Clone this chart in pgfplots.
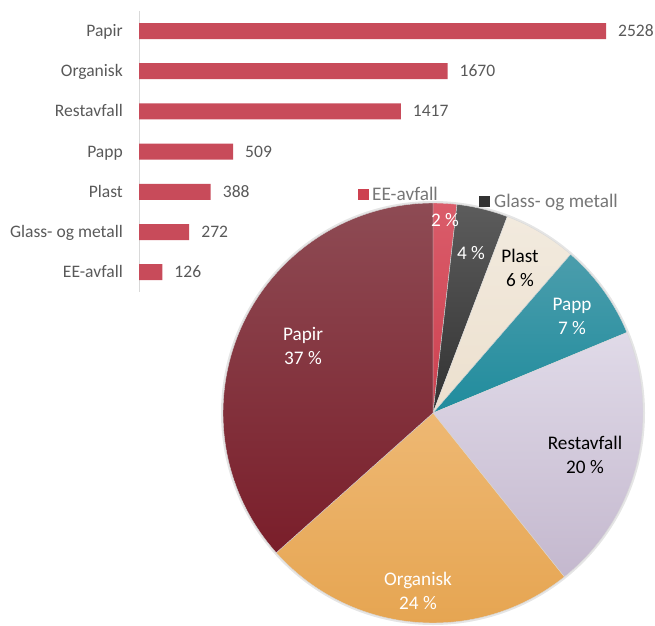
\documentclass[border=0pt]{standalone}
\usepackage{fontspec}
\setmainfont{Carlito}
\usepackage{pgfplots}
\usepackage{pgfplotstable}
\pgfplotsset{compat=1.18}

\definecolor{barred}{RGB}{200,75,90}
\definecolor{lblgray}{RGB}{89,89,89}
\definecolor{leggray}{RGB}{118,118,118}
\definecolor{axgray}{RGB}{217,217,217}
\definecolor{eeT}{RGB}{218,92,106}\definecolor{eeB}{RGB}{205,65,80}
\definecolor{glT}{RGB}{92,92,92}\definecolor{glB}{RGB}{50,50,50}
\definecolor{plT}{RGB}{242,234,222}\definecolor{plB}{RGB}{236,224,206}
\definecolor{ppT}{RGB}{75,157,172}\definecolor{ppB}{RGB}{32,140,157}
\definecolor{rsT}{RGB}{224,218,232}\definecolor{rsB}{RGB}{196,184,206}
\definecolor{orT}{RGB}{238,184,115}\definecolor{orB}{RGB}{229,163,78}
\definecolor{paT}{RGB}{142,75,84}\definecolor{paB}{RGB}{122,30,42}

\newcommand\tickf{\fontsize{17.6}{20}\selectfont}
\newcommand\pief{\fontsize{19.3}{24}\selectfont}

% rows: 0 Papir, 1 Organisk, 2 Restavfall, 3 Papp, 4 Plast, 5 Glass- og metall, 6 EE-avfall
\pgfplotstableread{
idx value
0 2528
1 1670
2 1417
3 509
4 388
5 272
6 126
}\wastetable

\newcommand\pieslice[4]{%
  \path[top color=#3, bottom color=#4, draw=white!70!gray, line width=0.4pt]
   (axis cs:0,0) -- (axis cs:{sin(#1)},{cos(#1)})
   arc[start angle={90-(#1)}, end angle={90-(#2)}, radius=210bp] -- cycle;}

\newcommand\plab[5]{%
  \node[anchor=base, inner sep=0pt, text=#5, font=\pief] at (#1bp,-#2bp) {#3};
  \node[anchor=base, inner sep=0pt, text=#5, font=\pief] at (#1bp,{-#2bp-24bp}) {#4};}

\begin{document}
\begin{tikzpicture}
\pgfplotstablegetelem{0}{value}\of\wastetable\edef\vPapir{\pgfplotsretval}
\pgfplotstablegetelem{1}{value}\of\wastetable\edef\vOrg{\pgfplotsretval}
\pgfplotstablegetelem{2}{value}\of\wastetable\edef\vRest{\pgfplotsretval}
\pgfplotstablegetelem{3}{value}\of\wastetable\edef\vPapp{\pgfplotsretval}
\pgfplotstablegetelem{4}{value}\of\wastetable\edef\vPlast{\pgfplotsretval}
\pgfplotstablegetelem{5}{value}\of\wastetable\edef\vGlass{\pgfplotsretval}
\pgfplotstablegetelem{6}{value}\of\wastetable\edef\vEE{\pgfplotsretval}
\pgfmathsetmacro\tot{\vPapir+\vOrg+\vRest+\vPapp+\vPlast+\vGlass+\vEE}
\pgfmathsetmacro\aA{\vEE/\tot*360}
\pgfmathsetmacro\aB{\aA+\vGlass/\tot*360}
\pgfmathsetmacro\aC{\aB+\vPlast/\tot*360}
\pgfmathsetmacro\aD{\aC+\vPapp/\tot*360}
\pgfmathsetmacro\aE{\aD+\vRest/\tot*360}
\pgfmathsetmacro\aF{\aE+\vOrg/\tot*360}

\begin{axis}[
  at={(139bp,-10.9bp)}, anchor=north west,
  scale only axis, width=467bp, height=281.4bp,
  xmin=0, xmax=2528, ymin=-0.5, ymax=6.5, y dir=reverse,
  axis x line=none, axis y line*=left,
  y axis line style={draw=axgray, line width=0.8pt, -},
  ytick={0,...,6},
  yticklabels={Papir,Organisk,Restavfall,Papp,Plast,Glass- og metall,EE-avfall},
  major tick length=0pt,
  yticklabel style={font=\tickf, text=lblgray, anchor=east, inner sep=0pt,
    text height=11bp, text depth=0pt, xshift=-16bp},
  clip=false,
  xbar, bar width=16bp,
  nodes near coords={\pgfmathprintnumber[assume math mode=true,1000 sep={}]{\pgfplotspointmeta}},
  every node near coord/.append style={font=\tickf, text=lblgray,
    text height=11bp, text depth=0pt, inner sep=0pt, xshift=12bp},
]
\addplot[fill=barred, draw=none] table[x=value,y=idx]{\wastetable};
\end{axis}

\begin{axis}[
  at={(433bp,-413bp)}, anchor=center,
  scale only axis, width=420bp, height=420bp,
  xmin=-1, xmax=1, ymin=-1, ymax=1, hide axis, clip=false]
\fill[black!10] (axis cs:0,0) circle[radius=212bp];
\pieslice{0}{\aA}{eeT}{eeB}
\pieslice{\aA}{\aB}{glT}{glB}
\pieslice{\aB}{\aC}{plT}{plB}
\pieslice{\aC}{\aD}{ppT}{ppB}
\pieslice{\aD}{\aE}{rsT}{rsB}
\pieslice{\aE}{\aF}{orT}{orB}
\pieslice{\aF}{360}{paT}{paB}
\end{axis}

\node[anchor=base, inner sep=0pt, text=white, font=\pief] at (445bp,-226.5bp) {2 \%};
\node[anchor=base, inner sep=0pt, text=white, font=\pief] at (471bp,-259bp) {4 \%};
\plab{520}{262}{Plast}{6 \%}{black}
\plab{572}{310}{Papp}{7 \%}{white}
\plab{585}{449}{Restavfall}{20 \%}{black}
\plab{418}{585}{Organisk}{24 \%}{white}
\plab{303}{340}{Papir}{37 \%}{white}

\node[anchor=base west, inner sep=0pt, text=leggray, font=\pief] at (358bp,-200bp)
  {\textcolor{eeB}{\rule{10.5bp}{11bp}}\hspace{3.5bp}EE-avfall};
\node[anchor=base west, inner sep=0pt, text=leggray, font=\pief] at (479bp,-207bp)
  {\textcolor{glB}{\rule{11bp}{11bp}}\hspace{4bp}Glass- og metall};

\pgfresetboundingbox
\path[use as bounding box] (0,0) rectangle (655bp,-626bp);
\end{tikzpicture}
\end{document}
